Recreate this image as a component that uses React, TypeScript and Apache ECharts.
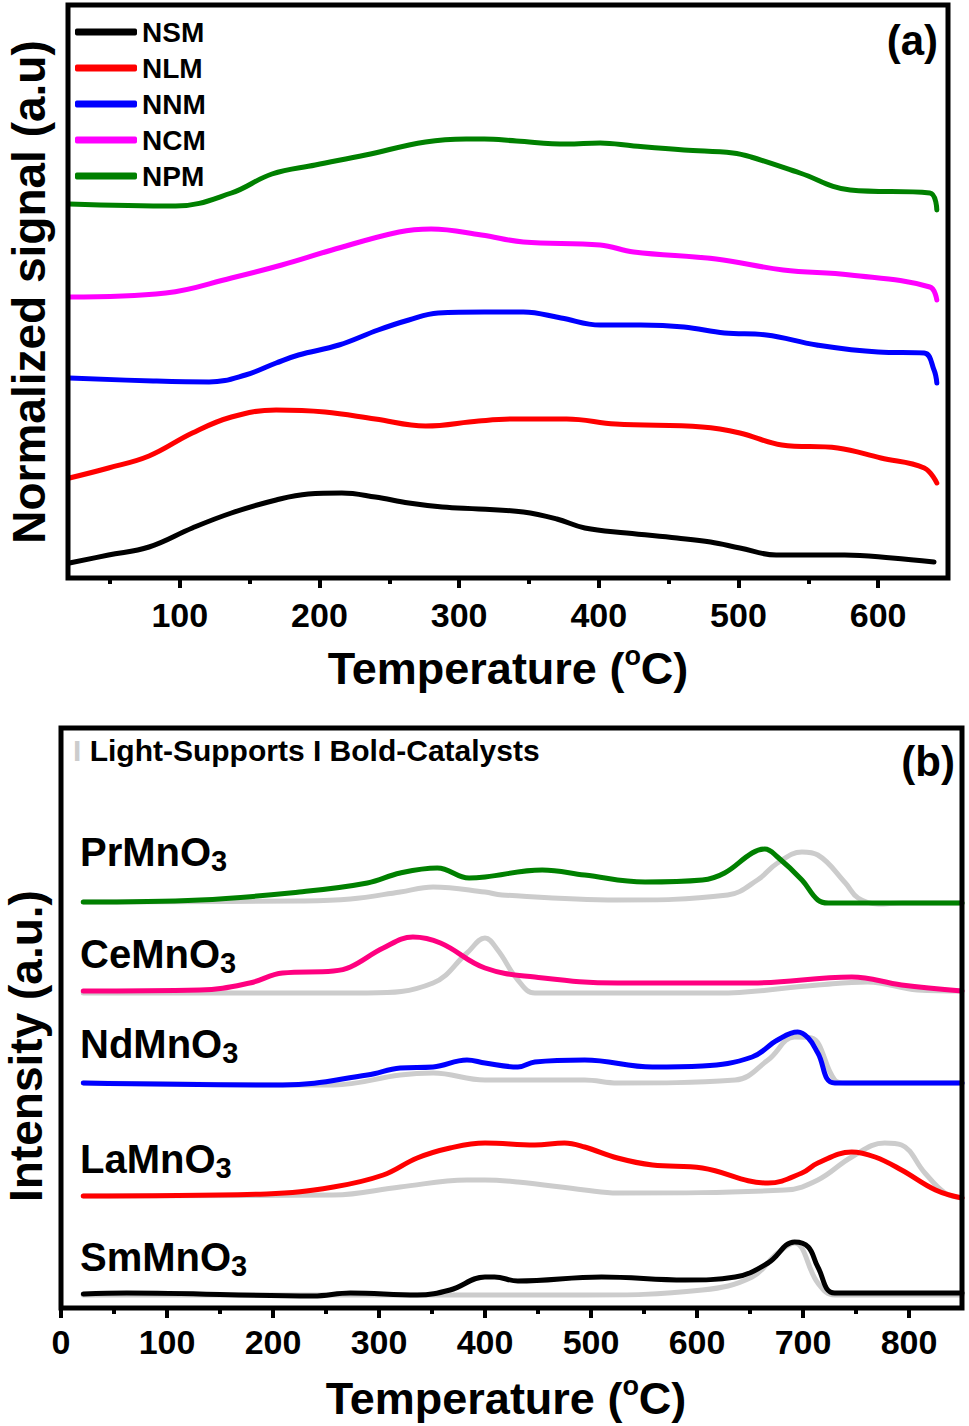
import React, { useEffect, useRef } from "react";
import * as echarts from "echarts";

const FONT = '"Liberation Sans", Arial, Helvetica, sans-serif';

// ---------- Panel (a): temperature (°C) vs normalized signal (a.u., offset traces) ----------
const A_LABELS = [100, 200, 300, 400, 500, 600];
const A_MINOR = [50, 150, 250, 350, 450, 550];
const A_NAMES = ["NSM", "NLM", "NNM", "NCM", "NPM"];

const NSM = [[21,15],[49,23],[78,31],[109,50],[137,65],[169,78],[192,84],[216,85],[240,81],[264,75],[288,71],[314,69],[346,66],[370,59],[390,50],[420,45],[456,40],[480,36],[501,30],[527,23],[550,23],[576,23],[610,20],[640,16]];
const NLM = [[21,100],[49,110],[78,122],[109,145],[137,161],[169,168],[204,166],[240,159],[276,152],[314,157],[340,159],[377,159],[412,154],[474,151],[501,145],[531,133],[571,130],[602,120],[633,110],[642,95]];
const NNM = [[21,200],[81,197],[121,196],[147,203],[169,215],[185,223],[214,233],[242,248],[264,258],[285,265],[318,266],[346,266],[373,260],[401,253],[430,253],[461,251],[490,245],[520,243],[556,233],[600,226],[633,225],[640,208],[642,195]];
const NCM = [[21,281],[90,285],[137,300],[173,313],[209,328],[257,346],[280,349],[316,343],[346,336],[401,333],[425,326],[484,319],[532,308],[580,303],[637,291],[642,278]];
const NPM = [[21,374],[97,372],[137,385],[166,404],[197,413],[233,423],[276,436],[305,439],[318,439],[341,437],[377,434],[401,435],[425,432],[461,428],[496,425],[509,421],[544,405],[580,388],[637,385],[642,368]];

// ---------- Panel (b): temperature (°C) vs intensity (a.u., offset traces) ----------
const B_LABELS = [0, 100, 200, 300, 400, 500, 600, 700, 800];
const B_MINOR = [50, 150, 250, 350, 450, 550, 650, 750];

const PR_CAT = [[21,406],[131,408],[225,416],[289,425],[320,435],[355,440],[385,430],[400,431],[454,438],[494,433],[551,426],[605,428],[626,435],[652,455],[664,459],[676,451],[699,428],[714,408],[724,405],[850,405]];
const PR_SUP = [[21,406],[225,407],[273,409],[320,416],[351,421],[400,416],[416,413],[525,408],[629,413],[657,428],[676,445],[699,456],[714,453],[740,425],[752,410],[771,404],[793,405],[850,405]];
const CE_CAT = [[21,317],[131,318],[178,325],[209,335],[257,337],[273,341],[304,360],[332,371],[358,365],[400,340],[447,331],[525,325],[652,325],[746,331],[793,323],[850,317]];
const CE_SUP = [[21,315],[289,315],[351,325],[383,355],[400,370],[412,358],[431,328],[447,315],[620,315],[714,323],[761,326],[808,318],[850,317]];
const ND_CAT = [[21,225],[209,223],[289,233],[320,240],[351,241],[383,248],[400,245],[431,241],[447,246],[494,248],[558,241],[605,242],[652,251],[676,268],[695,276],[705,270],[714,255],[730,225],[850,225]];
const ND_SUP = [[21,225],[257,223],[320,233],[351,235],[400,228],[494,228],[525,225],[636,228],[667,248],[692,271],[708,270],[730,228],[740,225],[850,225]];
const LA_CAT = [[21,112],[194,114],[257,121],[304,133],[336,150],[367,160],[400,165],[447,163],[475,165],[494,161],[525,150],[558,143],[605,140],[667,125],[699,135],[714,145],[746,156],[768,151],[793,138],[825,118],[850,110]];
const LA_SUP = [[21,112],[257,113],[320,121],[383,128],[400,128],[431,126],[494,118],[525,115],[683,118],[714,128],[746,151],[777,165],[793,163],[815,135],[834,115],[850,110]];
const SM_CAT = [[21,14],[62,15],[238,12],[273,15],[336,13],[367,18],[400,31],[409,31],[431,27],[510,31],[589,28],[636,31],[667,45],[692,66],[705,61],[714,41],[730,15],[850,15]];
const SM_SUP = [[21,13],[351,13],[400,13],[494,13],[605,18],[652,31],[676,55],[692,65],[714,25],[730,13],[850,13]];

const B_LABEL_NAMES = ["PrMnO", "CeMnO", "NdMnO", "LaMnO", "SmMnO"];

function mkLine(name: string, data: number[][], color: string, xi: number, yi: number, z: number) {
  return {
    name,
    type: "line",
    data,
    xAxisIndex: xi,
    yAxisIndex: yi,
    showSymbol: false,
    symbol: "none",
    smooth: 0.4,
    z,
    silent: true,
    lineStyle: { color, width: 5, cap: "round", join: "round" },
    itemStyle: { color },
  };
}

function majorAxis(grid: number, min: number, max: number, ticks: number[], margin: number) {
  return {
    type: "value",
    gridIndex: grid,
    position: "bottom",
    min,
    max,
    axisLine: { show: false, onZero: false },
    axisTick: { show: true, inside: false, length: 10, customValues: ticks, lineStyle: { color: "#000", width: 4 } },
    axisLabel: {
      show: true,
      customValues: ticks,
      margin,
      color: "#000",
      fontSize: 34,
      fontWeight: "bold",
      fontFamily: FONT,
    },
    splitLine: { show: false },
  };
}

function minorAxis(grid: number, min: number, max: number, ticks: number[]) {
  return {
    type: "value",
    gridIndex: grid,
    position: "bottom",
    min,
    max,
    axisLine: { show: false, onZero: false },
    axisTick: { show: true, inside: false, length: 6, customValues: ticks, lineStyle: { color: "#000", width: 4 } },
    axisLabel: { show: false },
    splitLine: { show: false },
  };
}

function tempTitle(x: number, y: number) {
  return {
    type: "text",
    x,
    y,
    style: {
      text: "{t|Temperature (}{s|o}{t|C)}",
      align: "center",
      verticalAlign: "middle",
      textAlign: "center",
      textVerticalAlign: "middle",
      rich: {
        t: { fontSize: 45, fontWeight: "bold", fontFamily: FONT, fill: "#000", lineHeight: 52 },
        s: { fontSize: 27, fontWeight: "bold", fontFamily: FONT, fill: "#000", lineHeight: 27, verticalAlign: "top" },
      },
    },
  };
}

function yTitle(text: string, x: number, y: number) {
  return {
    type: "text",
    x,
    y,
    rotation: Math.PI / 2,
    style: {
      text,
      fontSize: 46,
      fontWeight: "bold",
      fontFamily: FONT,
      fill: "#000",
      align: "center",
      verticalAlign: "middle",
      textAlign: "center",
      textVerticalAlign: "middle",
    },
  };
}

function formulaLabel(base: string, x: number, y: number) {
  return {
    type: "text",
    x,
    y,
    style: {
      text: "{m|" + base + "}{d|3}",
      align: "left",
      verticalAlign: "middle",
      textAlign: "left",
      textVerticalAlign: "middle",
      rich: {
        m: { fontSize: 40, fontWeight: "bold", fontFamily: FONT, fill: "#000", lineHeight: 46 },
        d: { fontSize: 29, fontWeight: "bold", fontFamily: FONT, fill: "#000", lineHeight: 22, verticalAlign: "bottom" },
      },
    },
  };
}

function plainText(text: string, x: number, y: number, size: number, align: string) {
  return {
    type: "text",
    x,
    y,
    style: {
      text,
      fontSize: size,
      fontWeight: "bold",
      fontFamily: FONT,
      fill: "#000",
      align,
      verticalAlign: "middle",
      textAlign: align,
      textVerticalAlign: "middle",
    },
  };
}

export default function App() {
  const ref = useRef<HTMLDivElement>(null);

  useEffect(() => {
    if (!ref.current) return;
    const chart = echarts.init(ref.current, null, { renderer: "svg" });

    const aColors = ["#000000", "#FF0000", "#0000FF", "#FF00FF", "#008000"];
    const aData = [NSM, NLM, NNM, NCM, NPM];
    const gray = "#CCCCCC";
    const bCat = [PR_CAT, CE_CAT, ND_CAT, LA_CAT, SM_CAT];
    const bSup = [PR_SUP, CE_SUP, ND_SUP, LA_SUP, SM_SUP];
    const bColors = ["#008000", "#FF0080", "#0000FF", "#FF0000", "#000000"];

    const series: any[] = [];
    A_NAMES.forEach((n, i) => series.push(mkLine(n, aData[i], aColors[i], 0, 0, 3)));
    B_LABEL_NAMES.forEach((n, i) => series.push(mkLine(n + "3 support", bSup[i], gray, 2, 1, 2)));
    B_LABEL_NAMES.forEach((n, i) => series.push(mkLine(n + "3 catalyst", bCat[i], bColors[i], 2, 1, 3)));

    const labelYs = [852, 954, 1044, 1159, 1257];

    const option: any = {
      animation: false,
      backgroundColor: "#ffffff",
      grid: [
        { left: 68, top: 5, width: 880, height: 573, show: true, borderColor: "#000", borderWidth: 5, backgroundColor: "transparent", z: 5 },
        { left: 61, top: 728, width: 901, height: 580, show: true, borderColor: "#000", borderWidth: 5, backgroundColor: "transparent", z: 5 },
      ],
      xAxis: [
        majorAxis(0, 20, 650, A_LABELS, 20),
        minorAxis(0, 20, 650, A_MINOR),
        majorAxis(1, 0, 850, B_LABELS, 17),
        minorAxis(1, 0, 850, B_MINOR),
      ],
      yAxis: [
        { type: "value", gridIndex: 0, min: 0, max: 573, show: false, splitLine: { show: false } },
        { type: "value", gridIndex: 1, min: 0, max: 580, show: false, splitLine: { show: false } },
      ],
      legend: {
        data: A_NAMES,
        orient: "vertical",
        left: 75,
        top: 17,
        padding: 0,
        itemWidth: 62,
        itemHeight: 7,
        itemGap: 6,
        icon: "roundRect",
        selectedMode: false,
        textStyle: { fontSize: 28, fontWeight: "bold", fontFamily: FONT, color: "#000", lineHeight: 30 },
      },
      series,
      graphic: {
        elements: [
          yTitle("Normalized signal (a.u)", 29, 292),
          yTitle("Intensity (a.u.)", 26, 1046),
          tempTitle(508, 668),
          tempTitle(506, 1398),
          plainText("(a)", 938, 40, 42, "right"),
          plainText("(b)", 955, 761, 42, "right"),
          {
            type: "text",
            x: 73,
            y: 750,
            style: {
              text: "{g|I}{k| Light-Supports I Bold-Catalysts}",
              align: "left",
              verticalAlign: "middle",
              textAlign: "left",
              textVerticalAlign: "middle",
              rich: {
                g: { fontSize: 30, fontWeight: "bold", fontFamily: FONT, fill: "#CCCCCC" },
                k: { fontSize: 30, fontWeight: "bold", fontFamily: FONT, fill: "#000" },
              },
            },
          },
          ...B_LABEL_NAMES.map((n, i) => formulaLabel(n, 80, labelYs[i])),
        ],
      },
    };

    chart.setOption(option);
    return () => chart.dispose();
  }, []);

  return <div ref={ref} style={{ position: "absolute", left: 0, top: 0, width: 969, height: 1426 }} />;
}
